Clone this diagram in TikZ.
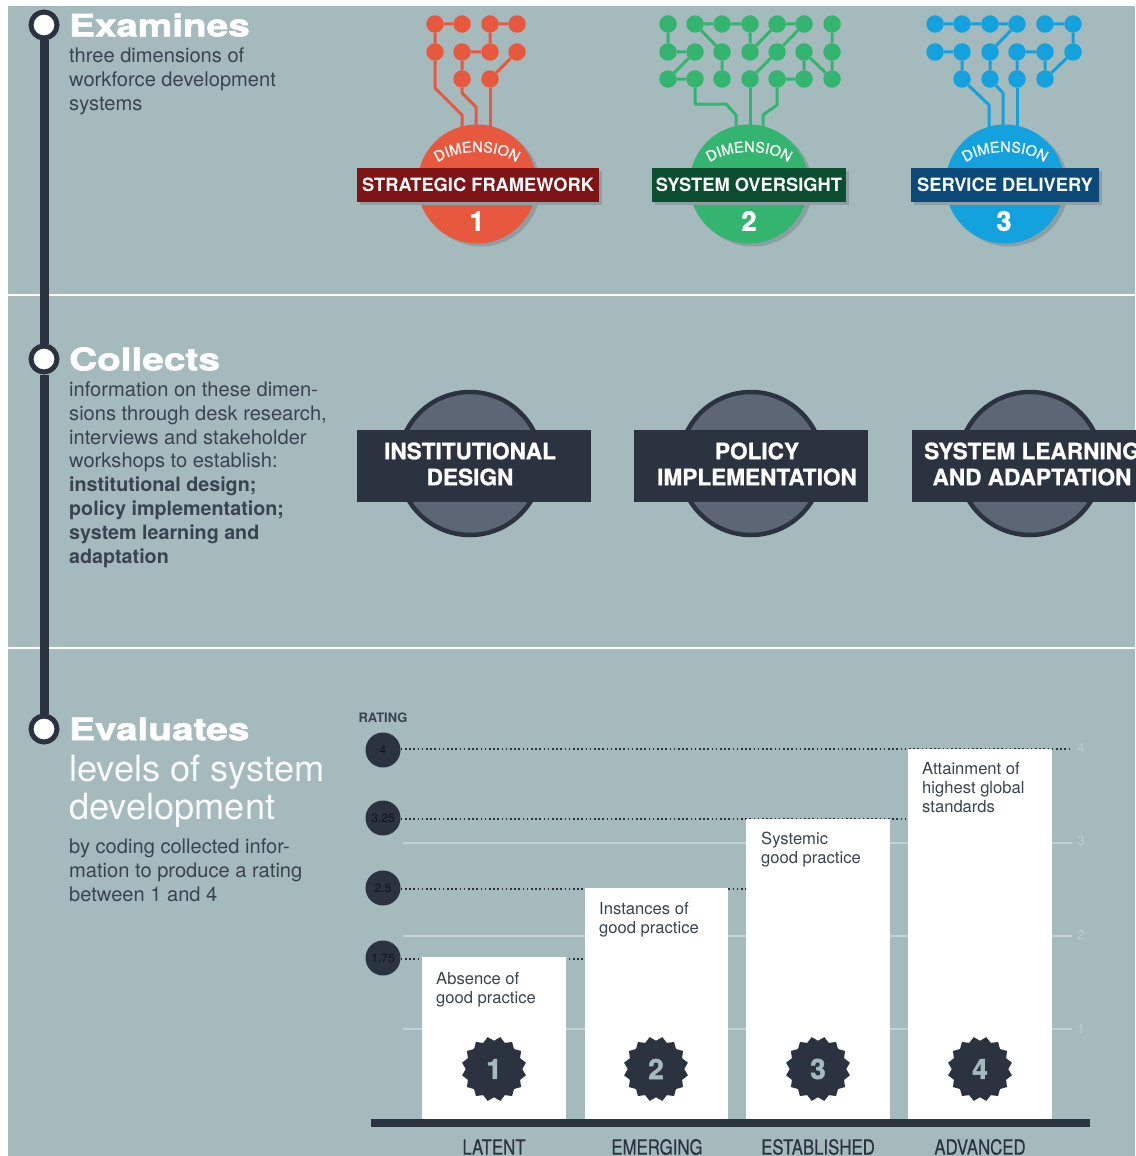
\documentclass[tikz,border=0pt]{standalone}
\usepackage{fontspec}
\usetikzlibrary{shapes.geometric,decorations.text}
\setmainfont{TeX Gyre Heros}
\newfontfamily\headfont[FakeStretch=1.25,FakeBold=2]{TeX Gyre Heros}
\newfontfamily\condfont[FakeStretch=0.8,FakeBold=0.4]{TeX Gyre Heros}
\newfontfamily\medfont[FakeBold=0.9]{TeX Gyre Heros}
\newfontfamily\heavyfont[FakeBold=1.5]{TeX Gyre Heros}
\newcommand{\strongline}[1]{{\fontsize{19.7}{23.8}\selectfont\bfseries #1}}
\definecolor{bgc}{HTML}{A5BABD}
\definecolor{ink}{HTML}{2B3340}
\definecolor{bodyc}{HTML}{3A4450}
\definecolor{redc}{HTML}{E8583F}
\definecolor{redd}{HTML}{7E1416}
\definecolor{grnc}{HTML}{33B56F}
\definecolor{grnd}{HTML}{0B4F30}
\definecolor{bluc}{HTML}{13A2DE}
\definecolor{blud}{HTML}{0B4A78}
\definecolor{shadowc}{HTML}{8D9FA3}
\definecolor{disc}{HTML}{5C6675}
\definecolor{gridc}{HTML}{C3D3D5}
\definecolor{numc}{HTML}{BCCDCF}
\tikzset{
  x=1pt,y=-1pt,
  netdot/.style={circle,draw=none,fill=#1,minimum size=17.5pt,inner sep=0pt},
  wire/.style={draw=#1,line width=3pt,line join=round},
  dimdisc/.style={circle,fill=#1,minimum size=119pt,inner sep=0pt},
  dimshadow/.style={circle,fill=shadowc,minimum size=119pt,inner sep=0pt},
  dimnum/.style={text=white,font=\heavyfont\fontsize{27}{27}\selectfont\bfseries},
  band/.style={fill=#1,minimum height=34pt,inner sep=0pt,text=white,font=\fontsize{18.3}{18.3}\selectfont\bfseries},
  timeline/.style={line width=9pt,draw=ink},
  stepdot/.style={circle,draw=ink,line width=5pt,fill=white,minimum size=26pt,inner sep=0pt},
  headtxt/.style={anchor=west,inner sep=0pt,text=white,font=\headfont\fontsize{31}{31}\selectfont\bfseries},
  bodytxt/.style={anchor=north west,inner sep=0pt,align=left,text=bodyc,font=\fontsize{20.1}{23.8}\selectfont},
  bigtxt/.style={anchor=north west,inner sep=0pt,align=left,text=white!92!bgc,font=\fontsize{36.2}{38.2}\selectfont},
  rule/.style={draw=white,line width=2pt},
  prism/.style={circle,draw=ink,line width=4.5pt,fill=disc,minimum size=143pt,inner sep=0pt},
  slab/.style={fill=ink,minimum height=72pt,minimum width=234pt,inner sep=0pt},
  slabtxt/.style={inner sep=0pt,align=center,text=white,font=\medfont\fontsize{22.6}{26}\selectfont\bfseries},
  ratedot/.style={circle,fill=ink,minimum size=35pt,inner sep=0pt,text=black!60!ink,font=\fontsize{12}{12}\selectfont},
  dots/.style={draw=ink,line width=1.6pt,dash pattern=on 1.6pt off 2.6pt},
  grid/.style={draw=gridc,line width=1.6pt},
  tick/.style={text=numc,inner sep=0pt,font=\fontsize{13}{13}\selectfont},
  barbox/.style={fill=white,draw=none},
  bartxt/.style={anchor=north west,inner sep=0pt,align=left,text=bodyc,font=\fontsize{16.6}{19}\selectfont},
  seal/.style={star,star points=16,star point ratio=1.15,shape border rotate=11.25,fill=ink,minimum size=65pt,inner sep=0pt,text=bgc,font=\heavyfont\fontsize{28}{28}\selectfont\bfseries},
  lvl/.style={text=ink,inner sep=0pt,font=\condfont\fontsize{21}{21}\selectfont},
  arcword/.style={decorate,decoration={text along path,text align=center,text color=white!94!bgc,
     text={|\medfont\fontsize{14.6}{14.6}\selectfont|DIMENSION}}}
}
\begin{document}
\begin{tikzpicture}
\useasboundingbox (0,0) rectangle (1135,1156);
\fill[bgc] (8,6) rectangle (1135,1156);
\draw[rule] (8,295) -- (1135,295);
\draw[rule] (8,648) -- (1135,648);

% timeline
\node[stepdot] (s1) at (44,25) {};
\node[stepdot] (s2) at (44,359) {};
\node[stepdot] (s3) at (44,729) {};
\draw[timeline] (s1) -- (s2);
\draw[timeline] (s2) -- (s3);

% left column
\node[headtxt] (h1) at (69,25) {Examines};
\node[bodytxt] (t1) at (69,47.5) {three dimensions of\\workforce development\\systems};
\node[headtxt] (h2) at (69,359) {Collects};
\node[bodytxt] (t2) at (69,381.5) {information on these dimen-\\sions through desk research,\\interviews and stakeholder\\workshops to establish:\\\strongline{institutional design;}\\\strongline{policy implementation;}\\\strongline{system learning and}\\\strongline{adaptation}};
\node[headtxt] (h3) at (69,729) {Evaluates};
\node[bigtxt] (t3a) at (69,755) {levels of system\\development};
\node[bodytxt] (t3b) at (69,839) {by coding collected infor-\\mation to produce a rating\\between 1 and 4};

% ---------- network 1
\foreach \n/\x/\y in {a1/435/24,a2/462/24,a3/490/24,a4/517/24,b1/435/52,b2/462/52,b3/490/52,b4/517/52,c2/462/79,c3/490/79}
  \node[netdot=redc] (r\n) at (\x,\y) {};
\coordinate (rt1) at (462,135);
\coordinate (rt2) at (476,135);
\coordinate (rt3) at (490,135);
\draw[wire=redc] (ra1)--(ra2) (ra3)--(ra4) (ra1)--(rb1) (ra3)--(rb3) (rb2)--(rb3) (rb2)--(rc2) (rb4)--(rc3);
\draw[wire=redc] (rb1) -- (435,88) -- (462,115) -- (rt1);
\draw[wire=redc] (rc2) -- (462,93) -- (476,107) -- (rt2);
\draw[wire=redc] (rc3) -- (rt3);
% ---------- network 2
\foreach \n/\x/\y in {a1/668/24,a2/695/24,a3/722/24,a4/750/24,a5/777/24,a6/804/24,a7/832/24,
                      b1/668/52,b2/695/52,b3/722/52,b4/750/52,b5/777/52,b6/804/52,b7/832/52,
                      c1/668/79,c2/695/79,c3/722/79,c4/750/79,c5/777/79,c6/804/79,c7/832/79}
  \node[netdot=grnc] (g\n) at (\x,\y) {};
\coordinate (gt1) at (736,135);
\coordinate (gt2) at (750,135);
\coordinate (gt3) at (763,135);
\draw[wire=grnc] (ga1)--(gb1) (gb1)--(gb2) (gb2)--(gc1) (gc1)--(gc2)
  (ga2)--(ga3) (ga3)--(ga4) (ga5)--(ga6)
  (ga2)--(gb3) (gb3)--(gc3) (ga4)--(gb4) (ga5)--(gb4) (ga6)--(gb5) (gb5)--(gc4)
  (gb6)--(gc6) (gb6)--(gc7) (gc5)--(gc6) (ga7)--(gb7) (gb7)--(gc7);
\draw[wire=grnc] (gc2) -- (695,104) -- (726,104) -- (736,115) -- (gt1);
\draw[wire=grnc] (gc4) -- (gt2);
\draw[wire=grnc] (gc5) -- (777,105) -- (763,115) -- (gt3);
% ---------- network 3
\foreach \n/\x/\y in {a1/935/24,a2/962/24,a3/990/24,a4/1017/24,a5/1045/24,a6/1073/24,
                      b1/935/52,b2/962/52,b3/990/52,b4/1017/52,b5/1045/52,b6/1073/52,
                      c2/962/79,c3/990/79,c4/1017/79,c5/1045/79}
  \node[netdot=bluc] (b\n) at (\x,\y) {};
\coordinate (bt1) at (989,135);
\coordinate (bt2) at (1003,135);
\coordinate (bt3) at (1017,135);
\draw[wire=bluc] (ba1)--(ba2) (ba2)--(ba3) (ba3)--(ba4) (ba5)--(ba6) (ba6)--(bb6) (bb1)--(bb2) (bb2)--(bc2)
  (ba4)--(bb3) (bb3)--(bc3) (bb4)--(bb5) (bb4)--(bc4) (bb5)--(bc5) (bb6)--(bc5);
\draw[wire=bluc] (bc2) -- (989,105) -- (bt1);
\draw[wire=bluc] (bc3) -- (1003,93) -- (bt2);
\draw[wire=bluc] (bc4) -- (bt3);

% ---------- dimension discs
\node[dimshadow] at (481,187) {};
\node[dimdisc=redc] (d1) at (477,184) {};
\node[dimshadow] at (753,187) {};
\node[dimdisc=grnc] (d2) at (749,184) {};
\node[dimshadow] at (1009,187) {};
\node[dimdisc=bluc] (d3) at (1005,184) {};
\path[arcword] (432,167) .. controls (452,147) and (502,147) .. (522,167);
\path[arcword] (704,167) .. controls (724,147) and (774,147) .. (794,167);
\path[arcword] (960,167) .. controls (980,147) and (1030,147) .. (1050,167);

\fill[shadowc] (360,171) rectangle (602,205);
\fill[shadowc] (655,171) rectangle (849,205);
\fill[shadowc] (914,171) rectangle (1102,205);
\node[band=redd,minimum width=242pt] (b1) at (478,185) {STRATEGIC FRAMEWORK};
\node[band=grnd,minimum width=194pt] (b2) at (749,185) {SYSTEM OVERSIGHT};
\node[band=blud,minimum width=188pt] (b3) at (1005,185) {SERVICE DELIVERY};
\node[dimnum] (n1) at (477,221) {1};
\node[dimnum] (n2) at (749,221) {2};
\node[dimnum] (n3) at (1004,221) {3};

% ---------- collects
\node[prism] (p1) at (470,463.5) {};
\node[prism] (p2) at (751,463.5) {};
\node[prism] (p3) at (1030,463.5) {};
\node[slab] (sl1) at (474,466) {};
\node[slab] (sl2) at (751,466) {};
\node[slab] (sl3) at (1029,466) {};
\node[slabtxt] (st1) at (470,464) {INSTITUTIONAL\\DESIGN};
\node[slabtxt] (st2) at (757,464) {POLICY\\IMPLEMENTATION};
\node[slabtxt] (st3) at (1032,464) {SYSTEM LEARNING\\AND ADAPTATION};

% ---------- chart
\node[anchor=center,inner sep=0pt,text=bodyc,font=\fontsize{13}{13}\selectfont\bfseries] (rat) at (383,718) {RATING};
\node[ratedot] (r4) at (383,750) {4};
\node[ratedot] (r3) at (383,818) {3.25};
\node[ratedot] (r2) at (383,888) {2.5};
\node[ratedot] (r1) at (383,958) {1.75};
\coordinate (e4) at (1072,749);
\coordinate (e3) at (908,819);
\coordinate (e2) at (746,889);
\coordinate (e1) at (585,959);
\draw[dots] (r4.east |- e4) -- (e4);
\draw[dots] (r3.east |- e3) -- (e3);
\draw[dots] (r2.east |- e2) -- (e2);
\draw[dots] (r1.east |- e1) -- (e1);
\coordinate (gl3) at (403,843);
\coordinate (gl2) at (403,936);
\coordinate (gl1) at (403,1029);
\draw[grid] (gl3) -- (1072,843);
\draw[grid] (gl2) -- (1072,936);
\draw[grid] (gl1) -- (1072,1029);
\node[tick] (k4) at (1081,748) {4};
\node[tick] (k3) at (1081,841) {3};
\node[tick] (k2) at (1081,935) {2};
\node[tick] (k1) at (1081,1029) {1};

\fill[barbox] (422,957) rectangle (566,1119);
\fill[barbox] (585,888) rectangle (728,1119);
\fill[barbox] (746,819) rectangle (890,1119);
\fill[barbox] (908,749) rectangle (1052,1119);
\fill[ink] (371,1119) rectangle (1090,1127);

\node[bartxt] (bt-a) at (436,972) {Absence of\\good practice};
\node[bartxt] (bt-b) at (599,902) {Instances of\\good practice};
\node[bartxt] (bt-c) at (761,832) {Systemic\\good practice};
\node[bartxt] (bt-d) at (922,762) {Attainment of\\highest global\\standards};

\node[seal] (z1) at (494,1069) {1};
\node[seal] (z2) at (656,1069) {2};
\node[seal] (z3) at (818,1069) {3};
\node[seal] (z4) at (980,1069) {4};

\node[lvl] (l1) at (494,1147) {LATENT};
\node[lvl] (l2) at (657,1147) {EMERGING};
\node[lvl] (l3) at (818,1147) {ESTABLISHED};
\node[lvl] (l4) at (980,1147) {ADVANCED};
\end{tikzpicture}
\end{document}
